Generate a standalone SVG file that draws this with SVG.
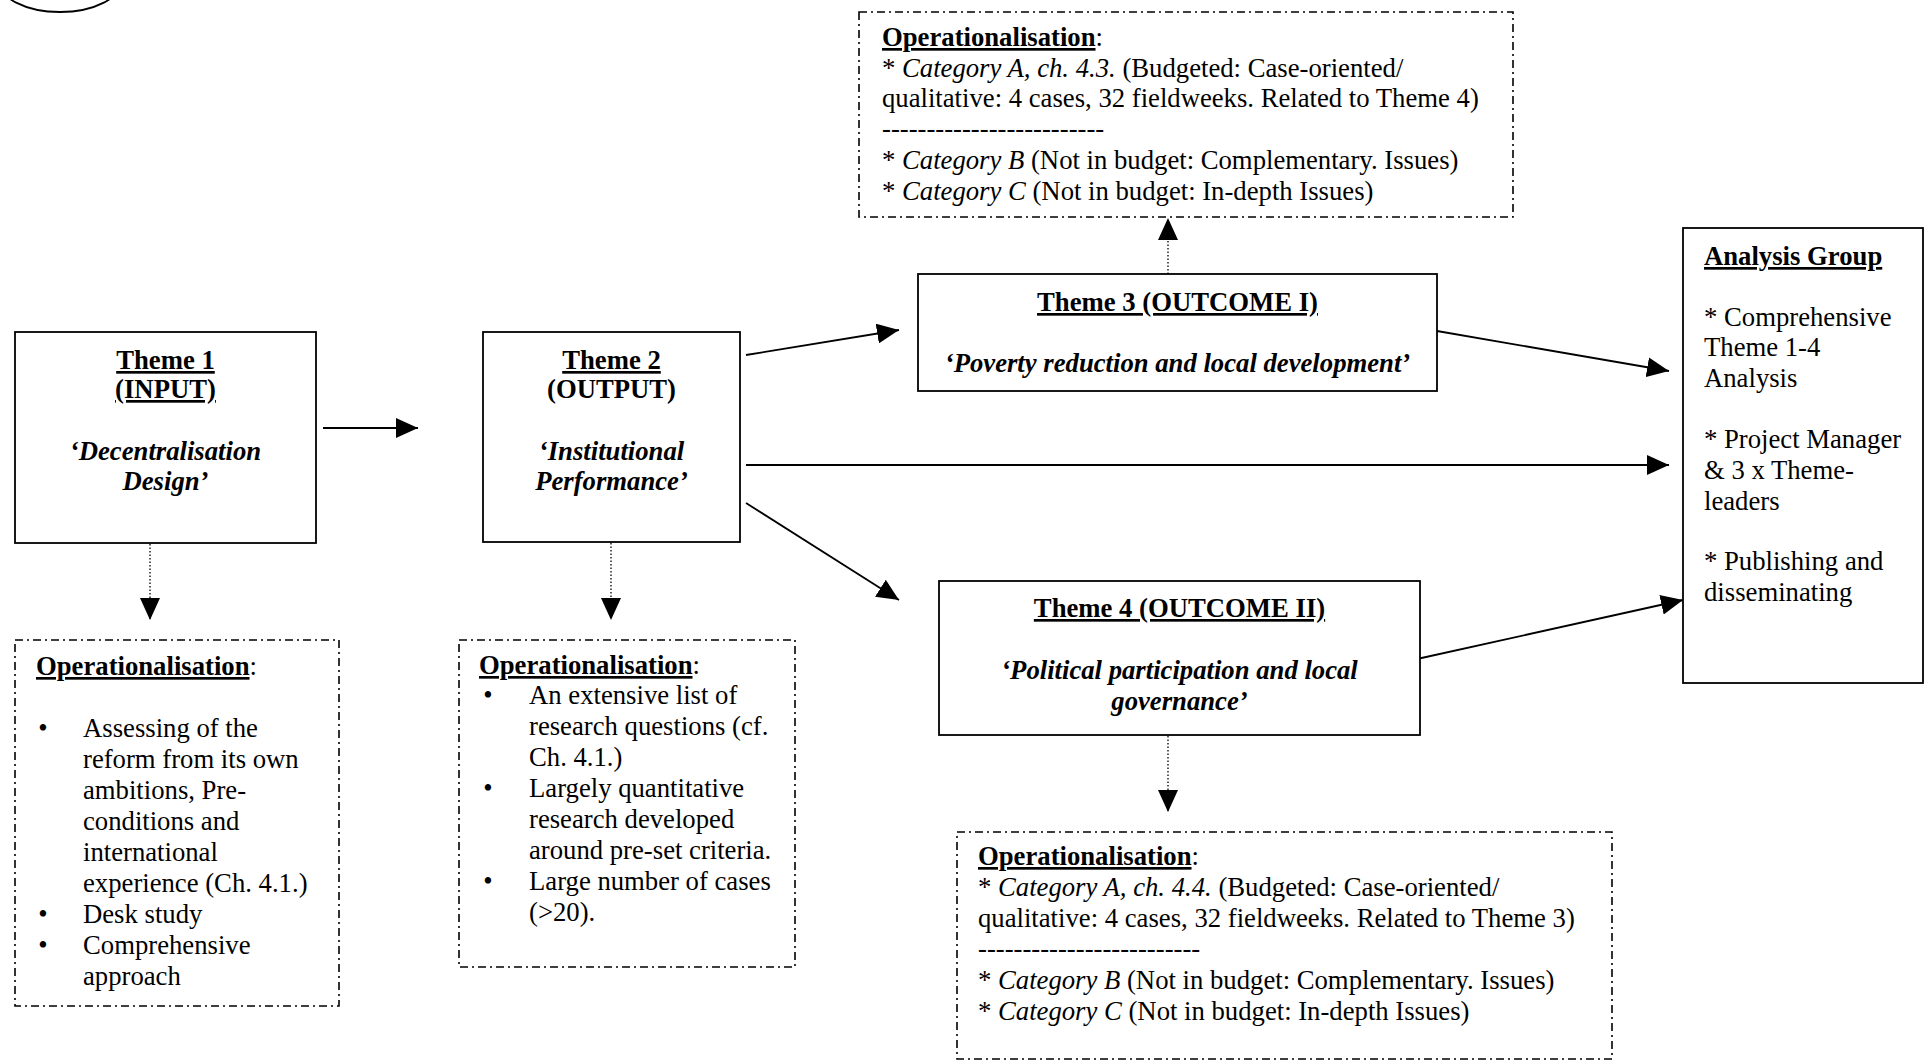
<svg xmlns="http://www.w3.org/2000/svg" width="1924" height="1063" viewBox="0 0 1924 1063">
<style>
text{font-family:"Liberation Serif","Times New Roman",serif;font-size:26.7px;fill:#000}
.b{font-weight:bold}
.i{font-style:italic}
.u{text-decoration:underline}
.m{text-anchor:middle}
.box{fill:#fff;stroke:#000;stroke-width:1.8}
.op{fill:#fff;stroke:#000;stroke-width:1.6;stroke-dasharray:8 4 2 4}
.con{fill:none;stroke:#000;stroke-width:1.8}
.dot{fill:none;stroke:#000;stroke-width:1.3;stroke-dasharray:1.5 2}
</style>
<defs>
<marker id="ah" markerUnits="userSpaceOnUse" markerWidth="22" markerHeight="20" refX="22" refY="10" orient="auto">
<path d="M0,0 L22,10 L0,20 z" fill="#000"/>
</marker>
</defs>
<rect width="1924" height="1063" fill="#fff"/>
<ellipse cx="60" cy="-20" rx="62" ry="32" fill="none" stroke="#000" stroke-width="1.8"/>

<g id="connectors">
<line class="con" x1="323" y1="428" x2="418" y2="428" marker-end="url(#ah)"/>
<line class="con" x1="746" y1="355" x2="899" y2="330" marker-end="url(#ah)"/>
<line class="con" x1="746" y1="465" x2="1669" y2="465" marker-end="url(#ah)"/>
<line class="con" x1="746" y1="503" x2="899" y2="600" marker-end="url(#ah)"/>
<line class="con" x1="1437" y1="331" x2="1669" y2="371" marker-end="url(#ah)"/>
<line class="con" x1="1417" y1="659" x2="1683" y2="600" marker-end="url(#ah)"/>
<line class="dot" x1="150" y1="544" x2="150" y2="620" marker-end="url(#ah)"/>
<line class="dot" x1="611" y1="543" x2="611" y2="620" marker-end="url(#ah)"/>
<line class="dot" x1="1168" y1="274" x2="1168" y2="218" marker-end="url(#ah)"/>
<line class="dot" x1="1168" y1="736" x2="1168" y2="812" marker-end="url(#ah)"/>
</g>

<g id="theme1">
<rect class="box" x="15" y="332" width="301" height="211"/>
<text class="b u m" x="165.5" y="369">Theme 1</text>
<text class="b u m" x="165.5" y="398">(INPUT)</text>
<text class="b i m" x="165.5" y="460">‘Decentralisation</text>
<text class="b i m" x="165.5" y="490">Design’</text>
</g>

<g id="theme2">
<rect class="box" x="483" y="332" width="257" height="210"/>
<text class="b u m" x="611.5" y="369">Theme 2</text>
<text class="b m" x="611.5" y="398">(OUTPUT)</text>
<text class="b i m" x="611.5" y="460">‘Institutional</text>
<text class="b i m" x="611.5" y="490">Performance’</text>
</g>

<g id="theme3">
<rect class="box" x="918" y="274" width="519" height="117"/>
<text class="b u m" x="1177.5" y="311">Theme 3 (OUTCOME I)</text>
<text class="b i m" x="1177.5" y="372">‘Poverty reduction and local development’</text>
</g>

<g id="theme4">
<rect class="box" x="939" y="581" width="481" height="154"/>
<text class="b u m" x="1179.5" y="617">Theme 4 (OUTCOME II)</text>
<text class="b i m" x="1179.5" y="679">‘Political participation and local</text>
<text class="b i m" x="1179.5" y="710">governance’</text>
</g>

<g id="analysis">
<rect class="box" x="1683" y="228" width="240" height="455"/>
<text class="b u" x="1704" y="265">Analysis Group</text>
<text x="1704" y="326">* Comprehensive</text>
<text x="1704" y="356">Theme 1-4</text>
<text x="1704" y="387">Analysis</text>
<text x="1704" y="448">* Project Manager</text>
<text x="1704" y="479">&amp; 3 x Theme-</text>
<text x="1704" y="510">leaders</text>
<text x="1704" y="570">* Publishing and</text>
<text x="1704" y="601">disseminating</text>
</g>

<g id="op-theme3">
<rect class="op" x="859" y="12" width="654" height="205"/>
<text x="882" y="46"><tspan class="b u">Operationalisation</tspan>:</text>
<text x="882" y="77">* <tspan class="i">Category A, ch. 4.3.</tspan> (Budgeted: Case-oriented/</text>
<text x="882" y="107">qualitative: 4 cases, 32 fieldweeks. Related to Theme 4)</text>
<text x="882" y="137">-------------------------</text>
<text x="882" y="169">* <tspan class="i">Category B</tspan> (Not in budget: Complementary. Issues)</text>
<text x="882" y="200">* <tspan class="i">Category C</tspan> (Not in budget: In-depth Issues)</text>
</g>

<g id="op-theme1">
<rect class="op" x="15" y="640" width="324" height="366"/>
<text x="36" y="675"><tspan class="b u">Operationalisation</tspan>:</text>
<text class="m" x="43" y="737">•</text>
<text x="83" y="737">Assessing of the</text>
<text x="83" y="768">reform from its own</text>
<text x="83" y="799">ambitions, Pre-</text>
<text x="83" y="830">conditions and</text>
<text x="83" y="861">international</text>
<text x="83" y="892">experience (Ch. 4.1.)</text>
<text class="m" x="43" y="923">•</text>
<text x="83" y="923">Desk study</text>
<text class="m" x="43" y="954">•</text>
<text x="83" y="954">Comprehensive</text>
<text x="83" y="985">approach</text>
</g>

<g id="op-theme2">
<rect class="op" x="459" y="640" width="336" height="327"/>
<text x="479" y="674"><tspan class="b u">Operationalisation</tspan>:</text>
<text class="m" x="488" y="704">•</text>
<text x="529" y="704">An extensive list of</text>
<text x="529" y="735">research questions (cf.</text>
<text x="529" y="766">Ch. 4.1.)</text>
<text class="m" x="488" y="797">•</text>
<text x="529" y="797">Largely quantitative</text>
<text x="529" y="828">research developed</text>
<text x="529" y="859">around pre-set criteria.</text>
<text class="m" x="488" y="890">•</text>
<text x="529" y="890">Large number of cases</text>
<text x="529" y="921">(&gt;20).</text>
</g>

<g id="op-theme4">
<rect class="op" x="957" y="832" width="655" height="227"/>
<text x="978" y="865"><tspan class="b u">Operationalisation</tspan>:</text>
<text x="978" y="896">* <tspan class="i">Category A, ch. 4.4.</tspan> (Budgeted: Case-oriented/</text>
<text x="978" y="927">qualitative: 4 cases, 32 fieldweeks. Related to Theme 3)</text>
<text x="978" y="957">-------------------------</text>
<text x="978" y="989">* <tspan class="i">Category B</tspan> (Not in budget: Complementary. Issues)</text>
<text x="978" y="1020">* <tspan class="i">Category C</tspan> (Not in budget: In-depth Issues)</text>
</g>
</svg>
